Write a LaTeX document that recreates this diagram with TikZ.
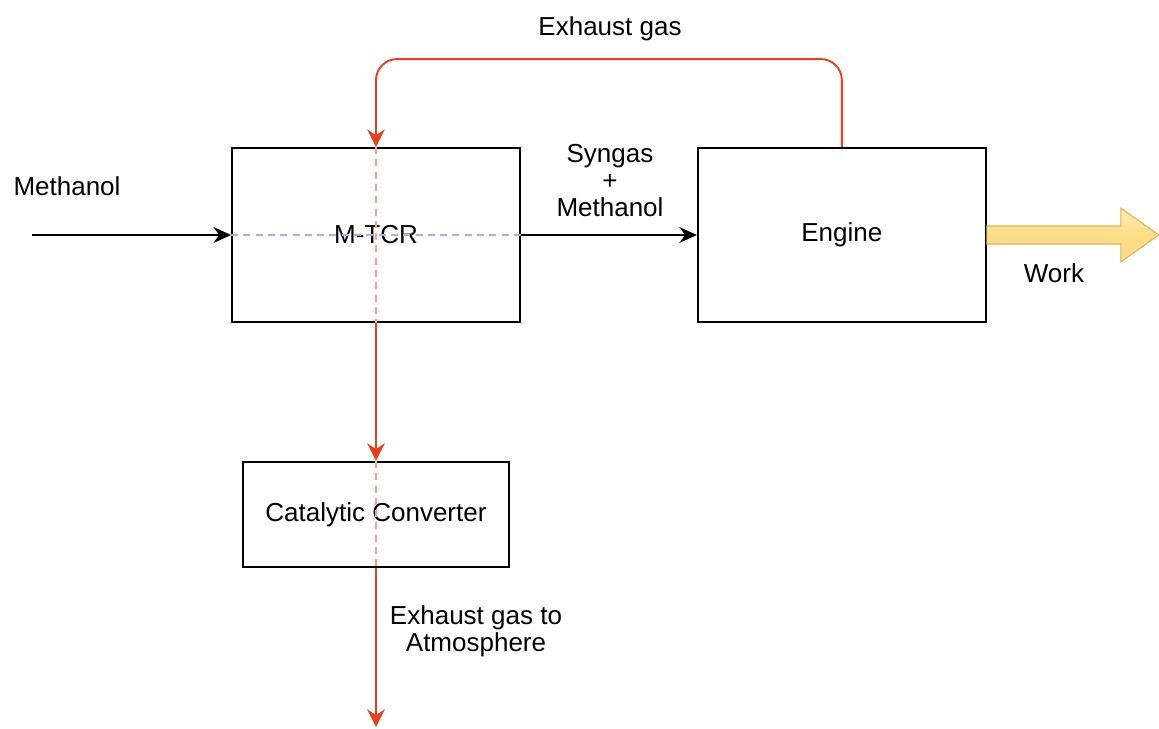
\documentclass[tikz,border=0pt]{standalone}
\usepackage{fontspec}
\setmainfont{Liberation Sans}
\usetikzlibrary{positioning, arrows.meta, calc}
\definecolor{exhRed}{HTML}{E8401C}
\definecolor{guideRed}{HTML}{FF9C8C}
\definecolor{guideBlue}{HTML}{A8A8FF}
\definecolor{workFill}{HTML}{FCDD85}
\definecolor{workFillTop}{HTML}{FFEDB5}
\definecolor{workEdge}{HTML}{D6B656}
\newcommand{\lblfont}{\fontsize{14.8}{15.5}\selectfont}
\begin{document}
\begin{tikzpicture}[x=0.02cm, y=-0.02cm, unit/.style={draw, line width=1.1pt, inner sep=0pt, align=center, font=\lblfont},lbl/.style={font=\lblfont, align=center, inner sep=1pt, yshift=-2pt},feed/.style={-{Stealth[length=10pt, width=9pt]}, line width=0.9pt},exh/.style={-{Stealth[length=10pt, width=10pt]}, line width=1.1pt, color=exhRed},guide/.style={dashed, line width=0.6pt, dash pattern=on 4pt off 3pt}]
\useasboundingbox (0,0) rectangle (1159,729);
\node[unit, minimum width=5.76cm, minimum height=3.48cm] (mtcr) at (376,235) {\raisebox{-2pt}{M-TCR}};
\node[unit, minimum width=5.76cm, minimum height=3.48cm, right=3.52cm of mtcr] (eng) {\raisebox{-2pt}{Engine}};
\node[unit, minimum width=5.32cm, minimum height=2.1cm, below=2.76cm of mtcr] (cat) {\raisebox{-2pt}{Catalytic Converter}};
\coordinate (feedin) at (32,235);
\coordinate (atmo) at (376,727);
% guide lines through the reactor
\draw[guide, color=guideBlue] (mtcr.west) -- (mtcr.east);
\draw[guide, color=guideRed] (mtcr.north) -- (mtcr.south);
\draw[guide, color=guideRed] (cat.north) -- (cat.south);
% flows
\draw[feed] (feedin) -- (mtcr.west);
\draw[feed] (mtcr.east) -- (eng.west);
\draw[exh, rounded corners=12pt] (eng.north) -- ++(0,-88) -| (mtcr.north);
\draw[exh] (mtcr.south) -- (cat.north);
\draw[exh] (cat.south) -- (atmo);
\draw[draw=workEdge, line width=0.6pt, top color=workFillTop, bottom color=workFill, middle color=workFill] (eng.east) ++(0,-9) -- ++(134,0) -- ++(0,-18) -- ++(38,27) -- ++(-38,27) -- ++(0,-18) -- ++(-134,0) -- cycle;
% labels
\node[lbl] (lmeth) at (67,183) {Methanol};
\node[lbl] (lsyn) at (610,177) {Syngas\\+\\Methanol};
\node[lbl] (lexh) at (610,25) {Exhaust gas};
\node[lbl] (latm) at (476,628) {Exhaust gas to\\Atmosphere};
\node[lbl] (lwork) at (1054,270) {Work};
\end{tikzpicture}
\end{document}
